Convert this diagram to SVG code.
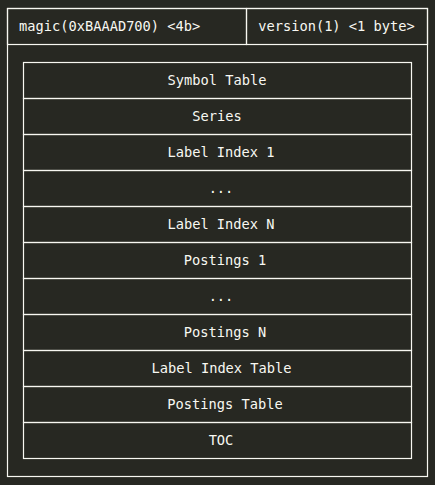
<svg xmlns="http://www.w3.org/2000/svg" width="435" height="485" viewBox="0 0 435 485">
<style>
.b{fill:none;stroke:#f8f8f2;stroke-width:1.2}
.t{font-family:"DejaVu Sans Mono","Liberation Mono",monospace;font-size:13.7px;fill:#f8f8f2}
.c{text-anchor:middle}
</style>
<rect x="0" y="0" width="435" height="485" fill="#272822"/>
<g id="outer"><rect class="b" x="7.5" y="8.5" width="420" height="468"/></g>
<g id="magic"><rect class="b" x="7.5" y="8.5" width="239" height="36"/><text class="t" x="19" y="31">magic(0xBAAAD700) &lt;4b&gt;</text></g>
<g id="version"><rect class="b" x="246.5" y="8.5" width="181" height="36"/><text class="t c" x="336.5" y="31">version(1) &lt;1 byte&gt;</text></g>
<g id="r1"><rect class="b" x="23.5" y="62.5" width="388" height="36"/><text class="t c" x="217" y="85">Symbol Table</text></g>
<g id="r2"><rect class="b" x="23.5" y="98.5" width="388" height="36"/><text class="t c" x="217" y="121">Series</text></g>
<g id="r3"><rect class="b" x="23.5" y="134.5" width="388" height="36"/><text class="t c" x="221" y="157">Label Index 1</text></g>
<g id="r4"><rect class="b" x="23.5" y="170.5" width="388" height="36"/><text class="t c" x="221" y="193">...</text></g>
<g id="r5"><rect class="b" x="23.5" y="206.5" width="388" height="36"/><text class="t c" x="221" y="229">Label Index N</text></g>
<g id="r6"><rect class="b" x="23.5" y="242.5" width="388" height="36"/><text class="t c" x="225" y="265">Postings 1</text></g>
<g id="r7"><rect class="b" x="23.5" y="278.5" width="388" height="36"/><text class="t c" x="221" y="301">...</text></g>
<g id="r8"><rect class="b" x="23.5" y="314.5" width="388" height="36"/><text class="t c" x="225" y="337">Postings N</text></g>
<g id="r9"><rect class="b" x="23.5" y="350.5" width="388" height="36"/><text class="t c" x="221.5" y="373">Label Index Table</text></g>
<g id="r10"><rect class="b" x="23.5" y="386.5" width="388" height="36"/><text class="t c" x="225" y="409">Postings Table</text></g>
<g id="r11"><rect class="b" x="23.5" y="422.5" width="388" height="36"/><text class="t c" x="221" y="445">TOC</text></g>
<g id="connectors"></g>
</svg>
